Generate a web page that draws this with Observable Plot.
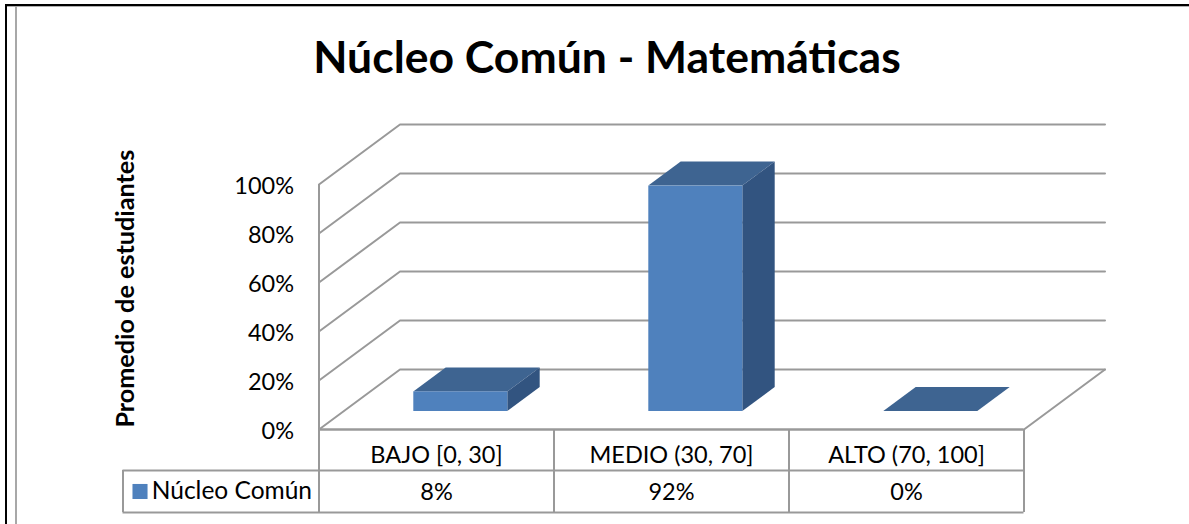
<!DOCTYPE html>
<html lang="es">
<head>
<meta charset="utf-8">
<script src="https://cdn.jsdelivr.net/npm/d3@7"></script>
<script src="https://cdn.jsdelivr.net/npm/@observablehq/plot@0.6"></script>
<style>
  html, body { margin: 0; padding: 0; background: #fff; overflow: hidden; }
  #page { position: relative; width: 1189px; height: 524px; overflow: hidden; font-family: Lato, sans-serif; }
  #title { height: 90px; margin: 0; padding-top: 30px; box-sizing: border-box; text-align: center; font: 700 44.5px/52px Lato, sans-serif; color: #000; padding-left: 25px; white-space: nowrap; }
  #frameBlack { position: absolute; left: 5px; top: 4px; right: -4px; bottom: -4px; border-left: 2px solid #000; border-top: 2px solid #000; }
  #frameTopShade { position: absolute; left: 7px; top: 6px; right: 0; height: 1px; background: #b0b0b0; }
  #frameGray { position: absolute; left: 15px; top: 6px; bottom: 0; width: 2px; background: #a8a8a8; }
  svg { display: block; }
</style>
</head>
<body>
<div id="page">
  <div id="title">Núcleo Común - Matemáticas</div>
  <div id="chart"></div>
  <div id="frameBlack"></div>
  <div id="frameTopShade"></div>
  <div id="frameGray"></div>
</div>
<script>
const categories = ["BAJO [0, 30]", "MEDIO (30, 70]", "ALTO (70, 100]"];
const values = [8, 92, 0];
const valueLabels = ["8%", "92%", "0%"];
const yTicks = [0, 20, 40, 60, 80, 100];
const seriesName = "Núcleo Común";
const yTitle = "Promedio de estudiantes";

// oblique projection, expressed in data units (category widths / percent points)
const depthX = 0.3447, depthY = 24.5;
const barWidth = 0.4, zFront = 0.3, zBack = 0.7;
const rowA = -16.73, rowB = -33.88, tableLeft = -0.834;

const colFront = "#4f81bd", colTop = "#3e6491", colSide = "#325480", colGrid = "#999999";

const bars = categories.map((c, i) => {
  const x0 = i + 0.5 - barWidth / 2 + zFront * depthX;
  const x1 = x0 + barWidth;
  const yb = zFront * depthY;
  return { c, v: values[i], x0, x1, yb, yt: yb + values[i] };
});
const dz = (zBack - zFront);

const grid = yTicks.flatMap(t => [
  { t, x: 0, y: t },
  { t, x: depthX, y: t + depthY },
  { t, x: 3 + depthX, y: t + depthY }
]);
const floorEdge = [
  { x: 0, y: 0 }, { x: 3, y: 0 }, { x: 3 + depthX, y: depthY }
];

const topFaces = bars.flatMap((b, i) => [
  { i, y: b.yt, x1: b.x0, x2: b.x1 },
  { i, y: b.yt + dz * depthY, x1: b.x0 + dz * depthX, x2: b.x1 + dz * depthX }
]);
const sideFaces = bars.filter(b => b.v > 0).flatMap((b, i) => [
  { i, x: b.x1, y1: b.yb, y2: b.yt },
  { i, x: b.x1 + dz * depthX, y1: b.yb + dz * depthY, y2: b.yt + dz * depthY }
]);
const frontFaces = bars.filter(b => b.v > 0);

const hRules = [
  { y: 0, x1: 0, x2: 3 },
  { y: rowA, x1: tableLeft, x2: 3 },
  { y: rowB, x1: tableLeft, x2: 3 }
];
const vRules = [
  { x: tableLeft, y1: rowA, y2: rowB },
  { x: 0, y1: 0, y2: rowB },
  { x: 1, y1: 0, y2: rowB },
  { x: 2, y1: 0, y2: rowB },
  { x: 3, y1: 0, y2: rowB }
];

const lineW = 2;
const plot = Plot.plot({
  width: 1189,
  height: 434,
  marginLeft: 318.5,
  marginRight: 84.5,
  marginTop: 34,
  marginBottom: 95,
  style: { fontFamily: "Lato, sans-serif", fontSize: "23.5px", color: "#000", background: "#fff" },
  x: { type: "linear", domain: [0, 3 + depthX], axis: null },
  y: { type: "linear", domain: [0, 100 + depthY], axis: null },
  marks: [
    Plot.axisY({ ticks: yTicks, tickFormat: d => d + "%", tickSize: 0, tickPadding: 25, fontSize: 23.5, label: null, dy: 1.5 }),
    Plot.line(grid, { x: "x", y: "y", z: "t", stroke: colGrid, strokeWidth: lineW, curve: "linear" }),
    Plot.ruleX([0], { y1: 0, y2: 100, stroke: colGrid, strokeWidth: lineW }),
    Plot.line(floorEdge, { x: "x", y: "y", stroke: colGrid, strokeWidth: lineW }),

    Plot.areaX(topFaces, { y: "y", x1: "x1", x2: "x2", z: "i", fill: colTop, stroke: null }),
    Plot.areaY(sideFaces, { x: "x", y1: "y1", y2: "y2", z: "i", fill: colSide, stroke: null }),
    Plot.rect(frontFaces, { x1: "x0", x2: "x1", y1: "yb", y2: "yt", fill: colFront }),

    Plot.ruleY(hRules, { y: "y", x1: "x1", x2: "x2", stroke: colGrid, strokeWidth: lineW }),
    Plot.ruleX(vRules, { x: "x", y1: "y1", y2: "y2", stroke: colGrid, strokeWidth: lineW }),

    Plot.text(categories, { x: (d, i) => i + 0.5, y: rowA / 2, dy: 5, text: d => d, fontSize: 23.5, lineAnchor: "middle", textAnchor: "middle" }),
    Plot.text(valueLabels, { x: (d, i) => i + 0.5, y: (rowA + rowB) / 2, dy: 1, text: d => d, fontSize: 23.5, lineAnchor: "middle", textAnchor: "middle" }),
    Plot.dot([seriesName], { x: tableLeft, y: (rowA + rowB) / 2, dx: 17, symbol: "square", r: 8.5, fill: colFront, stroke: null }),
    Plot.text([seriesName], { x: 0, y: (rowA + rowB) / 2, dx: -7, text: d => d, fontSize: 24.5, lineAnchor: "middle", textAnchor: "end" }),
    Plot.text([yTitle], { x: 0, y: 57.5, dx: -193, text: d => d, rotate: -90, fontSize: 25.2, fontWeight: 700, lineAnchor: "middle", textAnchor: "middle" })
  ]
});
document.getElementById("chart").appendChild(plot);
</script>
</body>
</html>
